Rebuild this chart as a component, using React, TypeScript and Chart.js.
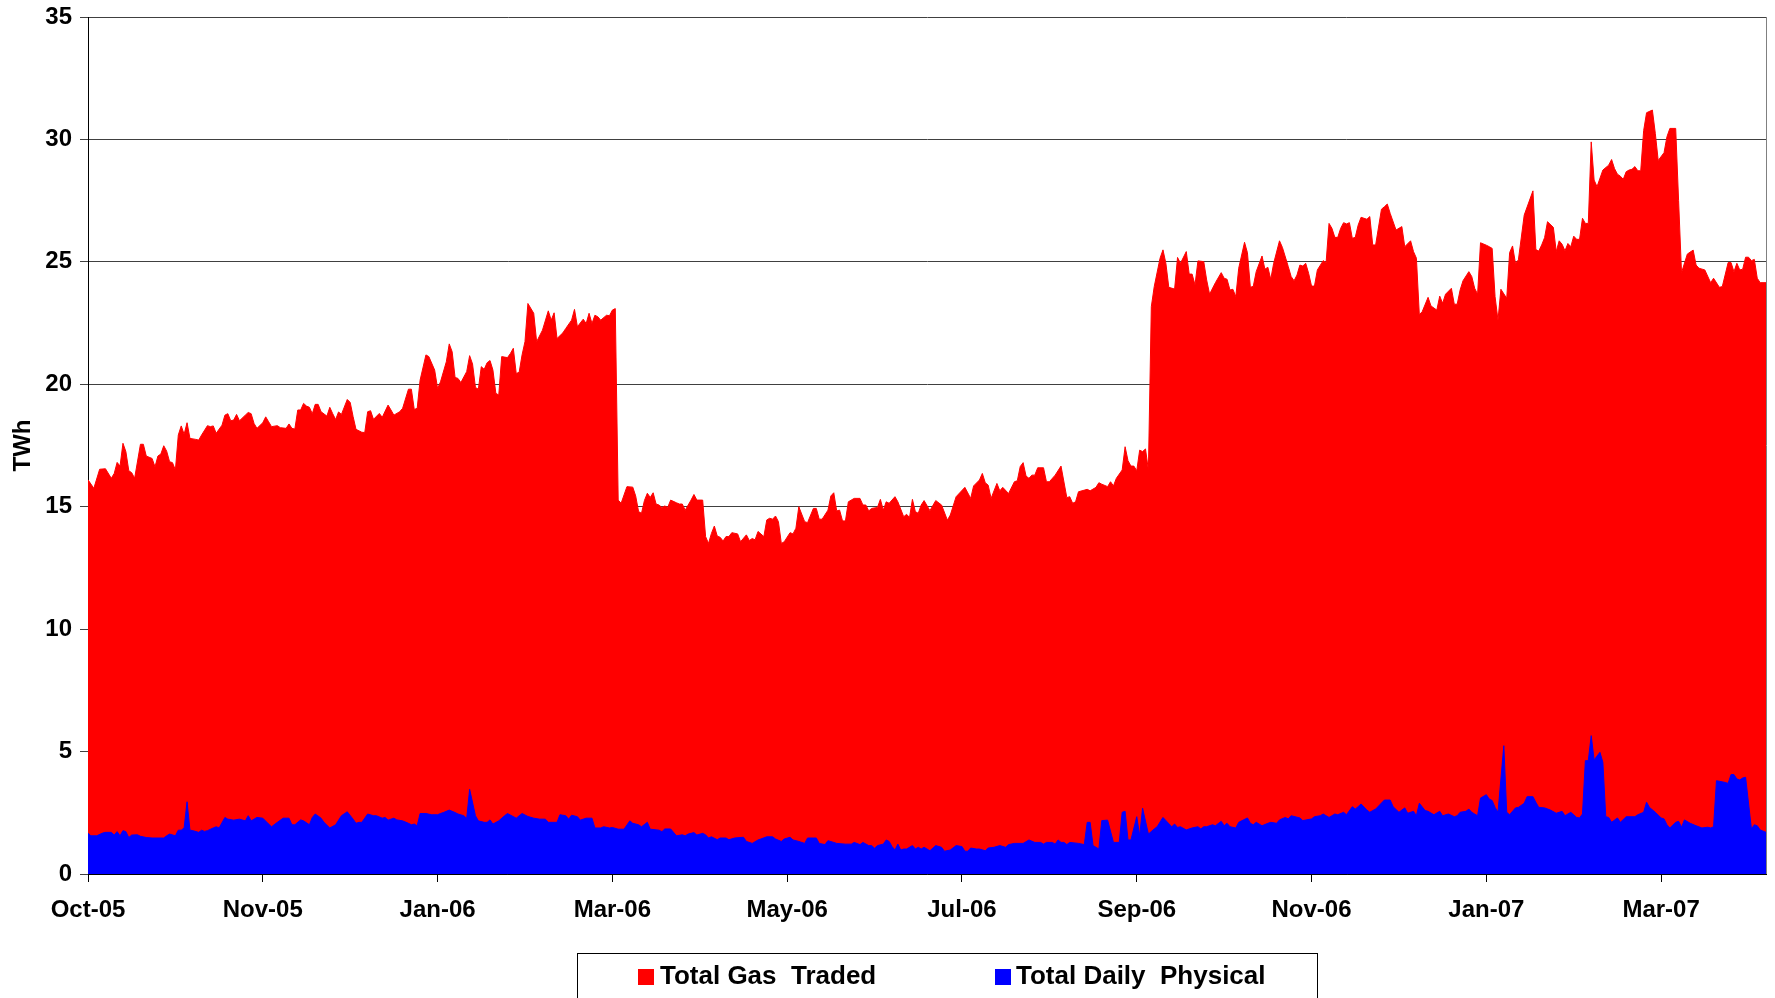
import React, { useEffect, useRef } from 'react';
import { Chart, registerables } from 'chart.js';

Chart.register(...registerables);

// Day index 0 = 1 Oct 2005 (daily data up to ~30 Apr 2007)
const tickDays = [0, 60, 120, 180, 240, 300, 360, 420, 480, 540];
const tickLabels = ['Oct-05', 'Nov-05', 'Jan-06', 'Mar-06', 'May-06', 'Jul-06', 'Sep-06', 'Nov-06', 'Jan-07', 'Mar-07'];
const yMin = 0;
const yMax = 35;
const yStep = 5;

const seriesNames = ['Total Gas  Traded', 'Total Daily  Physical'];
const seriesColors = ['#FF0000', '#0000FF'];

// Total Gas Traded (TWh) — [day, value]
const tradedWinter05a: [number, number][] = [
  [0,16.1],[2,15.75],[4,16.53],[6,16.55],[8,16.16],[9,16.36],[10,16.81],[11,16.66],[12,17.59],[13,17.25],[14,16.47],[15,16.39],[16,16.16],
  [18,17.55],[19,17.55],[20,17.07],[22,16.97],[23,16.63],[24,17.07],[25,17.15],[26,17.49],[27,17.27],[28,16.84],[29,16.8],[30,16.5],
  [31,17.93],[32,18.3],[33,17.96],[34,18.43],[35,17.79],[37,17.75],[38,17.72],[39,17.93],[41,18.31],[42,18.27],[43,18.3],[44,18.0],
  [46,18.33],[47,18.74],[48,18.8],[49,18.51],[50,18.54],[51,18.77],[52,18.51],[54,18.74],[55,18.85],[56,18.8],[57,18.4],[58,18.2],
  [60,18.43],[61,18.67],[62,18.47],[63,18.27],[65,18.31],[66,18.23],[68,18.2],[69,18.38],[70,18.2],[71,18.17],[72,18.95],[73,18.95],
  [74,19.22],[75,19.11],[76,19.06],[77,18.8],[78,19.18],[79,19.18],[80,18.88],[82,18.7],[83,19.06],[84,18.8],[85,18.56],[86,18.87],
  [87,18.77],[89,19.38],[90,19.26],[91,18.68],[92,18.16],[94,18.04],[95,18.03],[96,18.88],
];
const tradedWinter05b: [number, number][] = [
  [97,18.92],[98,18.57],[100,18.81],[101,18.65],[103,19.15],[104,18.95],[105,18.74],[107,18.88],[108,19.02],[110,19.8],[111,19.8],
  [112,18.97],[113,19.02],[114,20.17],[116,21.2],[117,21.13],[119,20.58],[120,19.83],[121,20.1],[123,20.92],[124,21.65],[125,21.33],
  [126,20.28],[127,20.24],[128,20.07],[130,20.52],[131,21.17],[132,20.83],[133,19.87],[134,19.8],[135,20.72],[136,20.61],[137,20.88],
  [138,20.97],[139,20.58],[140,19.63],[141,19.56],[142,21.13],[144,21.09],[145,21.26],[146,21.47],[147,20.44],[148,20.49],[149,21.2],
  [150,21.74],[151,23.3],[153,22.9],[154,21.74],[156,22.21],[158,23.0],[159,22.62],[160,22.92],[161,21.87],[163,22.1],[164,22.28],
  [166,22.62],[167,23.06],[168,22.35],[170,22.66],[171,22.48],[172,22.9],[173,22.48],[174,22.82],[175,22.76],[176,22.62],[178,22.82],
  [179,22.8],[180,23.03],[181,23.09],
];
const tradedSummer06: [number, number][] = [
  [182,15.27],[183,15.14],[185,15.82],[187,15.8],[188,15.44],[189,14.8],[190,14.73],[191,15.25],[192,15.55],[193,15.38],[194,15.57],
  [195,15.11],[196,15.07],[197,14.97],[198,15.03],[199,14.97],[200,15.27],[202,15.16],[203,15.11],[204,15.11],[205,14.86],[207,15.27],
  [208,15.5],[209,15.27],[211,15.27],[212,13.78],[213,13.5],[214,13.91],[215,14.21],[216,13.8],[217,13.75],[218,13.6],[219,13.78],
  [220,13.78],[221,13.94],[223,13.89],[224,13.57],[226,13.85],[227,13.62],[228,13.7],[229,13.65],[230,13.99],[232,13.78],[233,14.46],
  [234,14.53],[235,14.49],[236,14.62],[237,14.39],[238,13.5],[239,13.57],[241,13.94],[242,13.89],[243,14.12],[244,15.0],[246,14.39],
  [247,14.35],[249,14.93],[250,14.93],[251,14.49],[252,14.49],[254,14.86],[255,15.44],[256,15.57],[257,14.83],[258,14.86],[259,14.42],
  [260,14.42],[261,15.2],[263,15.34],[265,15.34],[266,15.07],[267,15.07],[268,14.83],[269,14.93],[271,14.97],[272,15.3],[273,14.86],
  [274,15.2],[275,15.14],[277,15.41],[278,15.2],[280,14.59],[281,14.69],[282,14.56],[283,15.3],[284,14.8],[285,14.73],[286,15.07],
  [287,15.25],[289,14.84],[291,15.25],[293,15.07],[295,14.45],[296,14.66],[298,15.41],[301,15.79],[303,15.34],[304,15.85],[306,16.09],
  [307,16.36],[308,15.98],[309,15.88],[310,15.34],[312,15.95],[313,15.65],[314,15.79],[316,15.54],[318,16.02],[319,16.06],[320,16.64],
  [321,16.8],[322,16.25],[323,16.16],[324,16.29],[325,16.29],[326,16.59],[328,16.59],[329,16.02],[330,16.02],[332,16.29],[334,16.66],
  [336,15.37],[337,15.41],[338,15.14],[339,15.2],[340,15.61],[343,15.71],[344,15.65],[346,15.79],[347,15.98],[348,15.92],[350,15.82],
  [351,16.02],[352,15.85],[353,16.16],[355,16.5],[356,17.45],[357,16.88],[358,16.66],[359,16.66],[360,16.47],[361,17.31],[362,17.25],
  [363,17.36],[364,16.5],
];
const tradedWinter06: [number, number][] = [
  [365,23.17],[366,23.99],[368,25.15],[369,25.49],[370,24.94],[371,23.96],[373,23.89],[374,25.18],[375,24.94],[377,25.42],[378,24.5],
  [379,24.5],[380,24.06],[381,25.04],[383,25.01],[384,24.26],[385,23.68],[387,24.15],[389,24.56],[390,24.33],[391,24.29],[392,23.85],
  [393,23.88],[394,23.58],[395,24.74],[397,25.8],[398,25.37],[399,23.96],[400,24.0],[401,24.6],[403,25.24],[404,24.7],[405,24.78],
  [406,24.29],[407,24.94],[409,25.86],[410,25.59],[412,24.81],[413,24.4],[414,24.23],[415,24.46],[416,24.87],[417,24.83],[418,24.94],
  [419,24.53],[420,24.01],[421,24.01],[422,24.67],[424,25.05],[425,24.97],[426,26.57],[427,26.37],[428,26.0],[429,26.0],[430,26.37],
  [431,26.6],[432,26.55],[433,26.6],[434,25.96],[435,26.0],[436,26.5],[437,26.82],[439,26.74],[440,26.85],[441,25.69],[442,25.69],
  [444,27.15],[445,27.25],[446,27.36],[447,26.98],[449,26.3],[451,26.44],[452,25.62],[454,25.86],[455,25.42],[456,25.15],[457,22.84],
  [458,22.97],[460,23.55],[461,23.2],[463,23.03],[464,23.6],[465,23.31],[466,23.68],[468,23.92],[469,23.27],[470,23.27],[471,23.85],
  [472,24.23],[474,24.6],[475,24.4],[476,23.92],[477,23.68],[478,25.78],[480,25.68],[481,25.62],[482,25.55],[483,23.58],[484,22.62],
  [485,23.88],[487,23.51],[488,25.38],[489,25.65],[490,24.94],[491,25.08],[493,26.91],[496,27.9],[497,25.5],[498,25.44],[499,25.69],
  [500,25.99],[501,26.64],[503,26.41],[504,25.42],[505,25.86],[506,25.72],[507,25.45],[508,25.75],[509,25.62],[510,26.05],[511,25.92],
  [512,25.92],[513,26.78],[514,26.57],[515,26.57],[516,29.9],[517,28.34],[518,28.07],[520,28.75],[522,28.95],[523,29.18],[524,28.81],
  [525,28.58],[526,28.5],[527,28.37],[528,28.68],[529,28.75],[530,28.78],[531,28.89],[532,28.72],[533,28.72],[534,30.36],[535,31.09],
  [537,31.2],[538,30.25],[539,29.14],[541,29.46],[542,30.11],[543,30.45],[545,30.45],[546,27.5],[547,24.56],[549,25.32],[551,25.48],
  [552,24.87],[553,24.74],[555,24.67],[557,24.15],[558,24.33],[560,23.96],[561,23.99],[563,24.97],[564,24.97],[565,24.6],[566,24.94],
  [567,24.67],[568,24.7],[569,25.19],[570,25.19],[571,25.05],[572,25.1],[573,24.33],[574,24.15],[576,24.15],
];

// Total Daily Physical (TWh) — [day, value]
const physicalWinter05: [number, number][] = [
  [0,1.66],[1,1.56],[3,1.56],[5,1.67],[6,1.7],[8,1.7],[9,1.59],[10,1.73],[11,1.56],[12,1.77],[13,1.73],[14,1.49],[15,1.59],[17,1.6],
  [18,1.54],[20,1.49],[22,1.47],[26,1.47],[27,1.56],[28,1.63],[30,1.56],[31,1.79],[32,1.79],[33,1.88],[34,2.95],[35,1.79],[36,1.77],
  [38,1.7],[39,1.79],[40,1.74],[41,1.77],[43,1.88],[44,1.93],[45,1.88],[47,2.31],[48,2.24],[50,2.2],[52,2.24],[54,2.17],[55,2.38],
  [56,2.17],[58,2.31],[60,2.28],[62,2.04],[63,1.93],[65,2.11],[67,2.28],[69,2.28],[70,2.01],[71,2.01],[73,2.21],[74,2.17],[76,2.01],
  [77,2.31],[78,2.45],[80,2.28],[81,2.11],[83,1.88],[85,2.01],[87,2.38],[89,2.54],[91,2.24],[92,2.07],[93,2.11],[94,2.11],[96,2.45],
  [98,2.38],[99,2.38],[101,2.28],[102,2.31],[103,2.2],[105,2.28],[106,2.21],[108,2.17],[110,2.07],[111,2.01],[112,2.04],[113,1.97],
  [114,2.47],[116,2.47],[118,2.42],[120,2.42],[121,2.47],[122,2.51],[124,2.61],[126,2.51],[127,2.45],[129,2.38],[130,2.27],[131,3.46],
  [133,2.38],[134,2.17],[136,2.11],[137,2.11],[138,2.21],[139,2.04],[141,2.17],[143,2.38],[144,2.47],[147,2.28],[149,2.47],[151,2.35],
  [153,2.28],[155,2.24],[157,2.24],[158,2.11],[161,2.11],[162,2.42],[164,2.38],[165,2.24],[166,2.4],[168,2.34],[169,2.2],[171,2.28],
  [173,2.28],[174,1.88],[176,1.88],[177,1.93],[179,1.88],[180,1.9],[182,1.83],[184,1.83],[186,2.17],[187,2.07],[189,2.01],[190,1.93],
  [192,2.11],[193,1.83],[196,1.79],
];
const physicalSummer06: [number, number][] = [
  [197,1.73],[198,1.84],[200,1.84],[201,1.7],[202,1.56],[204,1.6],[205,1.56],[206,1.63],[208,1.69],[209,1.59],[211,1.66],[212,1.6],
  [213,1.47],[214,1.52],[216,1.4],[217,1.47],[219,1.47],[220,1.4],[222,1.47],[225,1.5],[226,1.33],[228,1.25],[230,1.39],[231,1.43],
  [233,1.52],[235,1.52],[236,1.43],[238,1.33],[239,1.43],[241,1.5],[242,1.39],[244,1.33],[246,1.25],[247,1.47],[249,1.47],[250,1.47],
  [251,1.25],[253,1.2],[254,1.36],[256,1.29],[257,1.25],[260,1.22],[262,1.22],[263,1.29],[265,1.2],[266,1.29],[268,1.16],[269,1.16],
  [270,1.05],[271,1.16],[273,1.22],[274,1.39],[275,1.33],[276,1.12],[277,0.98],[278,1.22],[279,0.98],[280,1.02],[281,1.02],[283,1.16],
  [284,1.02],[285,1.09],[286,1.02],[287,1.09],[289,0.95],[291,1.16],[293,1.09],[294,0.93],[296,0.98],[298,1.16],[300,1.12],[301,0.93],
  [302,0.93],[303,1.06],[305,1.02],[306,1.02],[308,0.95],[309,1.06],[311,1.09],[313,1.16],[315,1.09],[316,1.2],[318,1.25],[321,1.25],
  [323,1.39],[325,1.29],[327,1.29],[328,1.22],[329,1.29],[331,1.29],[332,1.22],[333,1.39],[334,1.29],[335,1.29],[336,1.2],[337,1.29],
  [340,1.25],[342,1.2],[343,2.11],[344,2.11],[345,1.16],[346,1.09],[347,1.02],[348,2.18],[350,2.2],[352,1.29],[354,1.29],[355,2.52],
  [356,2.56],[357,1.39],[358,1.39],[360,2.34],[361,1.56],[362,2.69],[364,1.63],
];
const physicalWinter06: [number, number][] = [
  [366,1.84],[367,1.93],[369,2.31],[372,1.93],[373,2.04],[374,1.9],[375,1.93],[377,1.8],[379,1.88],[381,1.93],[382,1.84],[383,1.93],
  [384,1.93],[386,2.01],[387,1.97],[389,2.15],[390,1.97],[391,2.07],[392,1.93],[394,1.88],[395,2.11],[398,2.29],[399,2.07],[400,2.01],
  [401,2.11],[403,1.97],[405,2.07],[406,2.11],[408,2.07],[409,2.21],[411,2.31],[412,2.25],[413,2.38],[416,2.29],[417,2.18],[420,2.25],
  [421,2.34],[423,2.38],[424,2.45],[426,2.31],[428,2.45],[429,2.42],[431,2.52],[432,2.42],[434,2.75],[435,2.65],[436,2.75],[437,2.86],
  [439,2.61],[440,2.52],[441,2.59],[442,2.65],[445,3.02],[447,3.02],[448,2.75],[450,2.52],[452,2.7],[453,2.48],[455,2.56],[456,2.38],
  [457,2.89],[459,2.59],[460,2.56],[462,2.42],[464,2.56],[465,2.38],[467,2.45],[469,2.34],[470,2.38],[471,2.52],[473,2.56],[474,2.65],
  [475,2.52],[476,2.45],[477,2.38],[478,3.1],[480,3.24],[481,3.06],[482,3.0],[483,2.72],[484,2.52],[486,5.24],[487,2.52],[488,2.42],
  [490,2.7],[491,2.72],[493,2.89],[494,3.16],[496,3.16],[497,2.93],[498,2.72],[500,2.7],[502,2.61],[504,2.48],[506,2.56],[507,2.38],
  [509,2.52],[511,2.31],[512,2.29],[513,2.45],[514,4.63],[515,4.63],[516,5.65],[517,4.66],[519,4.97],[520,4.56],[521,2.34],[522,2.31],
  [523,2.11],[525,2.29],[526,2.11],[528,2.34],[531,2.34],[532,2.42],[534,2.52],[535,2.93],[536,2.72],[538,2.52],[540,2.29],[541,2.25],
  [542,2.01],[543,1.88],[545,2.11],[546,2.15],[547,1.91],[548,2.21],[550,2.07],[552,1.97],[554,1.88],[556,1.91],[557,1.88],[558,1.93],
  [559,3.81],[562,3.74],[563,3.7],[564,4.06],[565,4.06],[566,3.88],[567,3.84],[568,3.92],[569,3.95],[571,1.84],[572,2.01],[573,1.97],
  [574,1.8],[576,1.7],
];

const lastDay = 576;

const toPoints = (rows: [number, number][]) => rows.map(([x, y]) => ({ x, y }));

const FONT = "'Liberation Sans', Arial, sans-serif";

const frameAndLegend = {
  id: 'frameAndLegend',
  afterDraw(chart: any) {
    const { ctx, chartArea: a } = chart;
    ctx.save();
    // right border of the plot
    ctx.strokeStyle = '#808080';
    ctx.lineWidth = 1;
    ctx.beginPath();
    ctx.moveTo(Math.round(a.right) + 0.5, a.top);
    ctx.lineTo(Math.round(a.right) + 0.5, a.bottom);
    ctx.stroke();

    // legend box
    const boxLeft = 577;
    const boxTop = 953;
    const boxRight = 1317;
    ctx.strokeStyle = '#000';
    ctx.lineWidth = 1;
    ctx.strokeRect(boxLeft + 0.5, boxTop + 0.5, boxRight - boxLeft, 80);

    const items = [
      { sq: 638, tx: 660 },
      { sq: 995, tx: 1016 },
    ];
    const cy = 977;
    ctx.font = `bold 26px ${FONT}`;
    ctx.textBaseline = 'middle';
    ctx.textAlign = 'left';
    items.forEach((it, i) => {
      ctx.fillStyle = seriesColors[i];
      ctx.fillRect(it.sq, cy - 8, 16, 16);
      ctx.fillStyle = '#000';
      ctx.fillText(seriesNames[i], it.tx, cy);
    });
    ctx.restore();
  },
};

export default function App() {
  const ref = useRef<HTMLCanvasElement | null>(null);

  useEffect(() => {
    document.body.style.margin = '0';
    const canvas = ref.current;
    if (!canvas) return;

    const traded = toPoints([...tradedWinter05a, ...tradedWinter05b, ...tradedSummer06, ...tradedWinter06]);
    const physical = toPoints([...physicalWinter05, ...physicalSummer06, ...physicalWinter06]);

    const tickFont = { family: FONT, size: 24, weight: 'bold' as const };

    const chart = new Chart(canvas, {
      type: 'line',
      data: {
        datasets: [
          {
            label: seriesNames[0],
            data: traded,
            borderColor: seriesColors[0],
            backgroundColor: seriesColors[0],
            borderWidth: 1,
            pointRadius: 0,
            fill: 'origin',
            tension: 0,
            order: 1,
          },
          {
            label: seriesNames[1],
            data: physical,
            borderColor: seriesColors[1],
            backgroundColor: seriesColors[1],
            borderWidth: 1,
            pointRadius: 0,
            fill: 'origin',
            tension: 0,
            order: 0,
          },
        ],
      },
      options: {
        animation: false,
        responsive: false,
        devicePixelRatio: 1,
        layout: { padding: { top: 17, right: 9, left: 0, bottom: 0 } },
        plugins: {
          legend: { display: false },
          tooltip: { enabled: false },
        },
        scales: {
          x: {
            type: 'linear',
            min: 0,
            max: lastDay,
            afterBuildTicks: (s: any) => {
              s.ticks = tickDays.map((v) => ({ value: v }));
            },
            afterFit: (s: any) => {
              s.height = 124;
              s.paddingLeft = 0;
              s.paddingRight = 0;
            },
            ticks: {
              autoSkip: false,
              maxRotation: 0,
              color: '#000',
              font: tickFont,
              padding: 14,
              callback: (v: any) => {
                const i = tickDays.indexOf(Number(v));
                return i >= 0 ? tickLabels[i] : '';
              },
            },
            grid: { drawOnChartArea: false, drawTicks: true, tickLength: 8, color: '#000' },
            border: { display: true, color: '#000', width: 1 },
          },
          y: {
            min: yMin,
            max: yMax,
            afterFit: (s: any) => {
              s.width = 88;
              s.paddingTop = 0;
              s.paddingBottom = 0;
            },
            ticks: { stepSize: yStep, color: '#000', font: tickFont, padding: 8 },
            grid: { color: '#404040', lineWidth: 1, drawTicks: true, tickLength: 8 },
            border: { display: true, color: '#000', width: 1 },
            title: {
              display: true,
              text: 'TWh',
              color: '#000',
              font: tickFont,
              padding: { top: 9, bottom: 0 },
            },
          },
        },
      },
      plugins: [frameAndLegend],
    });

    return () => chart.destroy();
  }, []);

  return (
    <div style={{ width: 1775, height: 998, overflow: 'hidden' }}>
      <canvas ref={ref} width={1775} height={998} style={{ display: 'block', width: 1775, height: 998 }} />
    </div>
  );
}
